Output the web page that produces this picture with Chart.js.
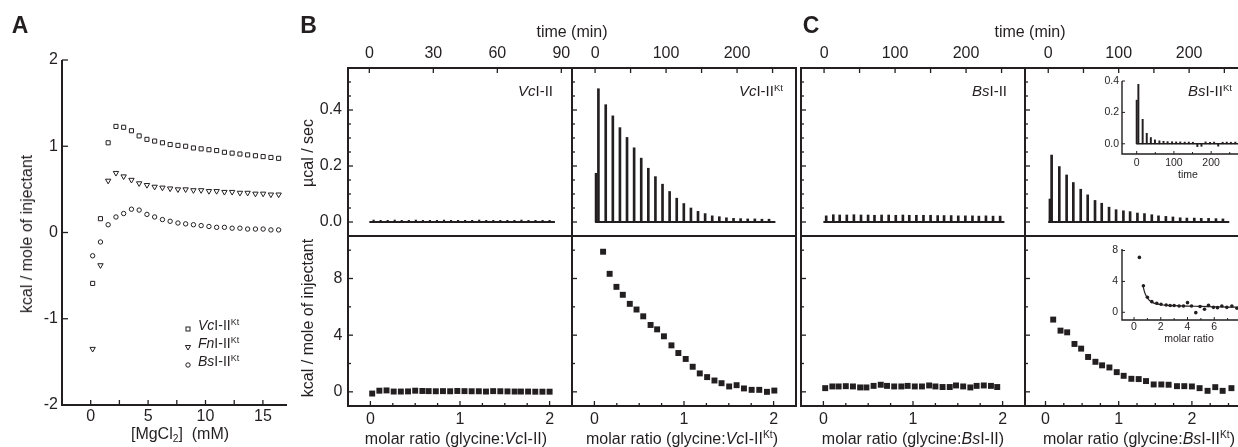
<!DOCTYPE html>
<html>
<head>
<meta charset="utf-8">
<script src="https://cdn.jsdelivr.net/npm/chart.js@4.4.1/dist/chart.umd.min.js"></script>
<style>
  html, body { margin: 0; padding: 0; background: #fff; }
  #fig { position: relative; width: 1238px; height: 447px; overflow: hidden;
         font-family: "Liberation Sans", Arial, Helvetica, sans-serif; color: #231f20; }
  #fig canvas { position: absolute; left: 0; top: 0; }
  .t { position: absolute; white-space: nowrap; line-height: 1; z-index: 5; }
  .t sup { font-size: 0.64em; vertical-align: 0; position: relative; top: -0.55em; }
  .t sub { font-size: 0.64em; vertical-align: 0; position: relative; top: 0.3em; }
  .sym { position: absolute; z-index: 5; }
</style>
</head>
<body>
<div id="fig"></div>
<script>
const INK = '#231f20';
const FONT = '"Liberation Sans", Arial, Helvetica, sans-serif';

// ---- Panel A: heat of MgCl2 injection ----
const mgConc = [0.17, 0.85, 1.52, 2.20, 2.87, 3.55, 4.22, 4.90, 5.57, 6.25, 6.92, 7.60, 8.27, 8.95, 9.62, 10.30, 10.97, 11.65, 12.32, 13.00, 13.67, 14.35, 15.02, 15.70, 16.37];
const vcKtMg = [-0.59, 0.16, 1.04, 1.23, 1.22, 1.18, 1.12, 1.08, 1.06, 1.04, 1.02, 1.01, 1.00, 0.98, 0.97, 0.96, 0.95, 0.93, 0.92, 0.91, 0.90, 0.89, 0.88, 0.87, 0.86];
const fnKtMg = [-1.35, -0.38, 0.60, 0.69, 0.65, 0.61, 0.57, 0.55, 0.53, 0.52, 0.51, 0.50, 0.50, 0.49, 0.49, 0.48, 0.48, 0.47, 0.47, 0.46, 0.46, 0.45, 0.45, 0.44, 0.44];
const bsKtMg = [-0.27, -0.11, 0.09, 0.18, 0.22, 0.27, 0.26, 0.21, 0.18, 0.15, 0.13, 0.11, 0.10, 0.09, 0.08, 0.07, 0.06, 0.06, 0.05, 0.05, 0.04, 0.04, 0.04, 0.03, 0.03];

// ---- VcI-II (glycine titration) ----
const vcTime = [2.0, 5.3, 8.6, 11.9, 15.2, 18.5, 21.8, 25.1, 28.4, 31.7, 35.0, 38.3, 41.6, 44.9, 48.2, 51.5, 54.8, 58.1, 61.4, 64.7, 68.0, 71.3, 74.6, 77.9, 81.2, 84.5];
const vcPeak = [0.007, 0.006, 0.006, 0.007, 0.006, 0.006, 0.007, 0.006, 0.006, 0.006, 0.007, 0.006, 0.006, 0.006, 0.006, 0.007, 0.006, 0.006, 0.006, 0.006, 0.006, 0.007, 0.006, 0.006, 0.006, 0.006];
const vcRun = [0, 87];
const vcRatio = [0.02, 0.10, 0.18, 0.26, 0.34, 0.42, 0.50, 0.58, 0.65, 0.73, 0.81, 0.89, 0.97, 1.05, 1.13, 1.21, 1.29, 1.37, 1.45, 1.53, 1.61, 1.68, 1.76, 1.84, 1.92, 2.00];
const vcHeat = [-0.12, 0.08, 0.10, 0.02, 0.02, 0.03, 0.08, 0.06, 0.05, 0.04, 0.05, 0.04, 0.06, 0.05, 0.04, 0.04, 0.02, 0.05, 0.04, 0.03, 0.02, 0.02, 0.02, 0.01, 0.01, 0.01];

// ---- VcI-II Kt ----
const vcKtTime = [1.4, 4.7, 15, 25, 35, 45, 55, 65, 75, 85, 95, 105, 115, 125, 135, 145, 155, 165, 175, 185, 195, 205, 215, 225, 235, 245];
const vcKtPeak = [0.174, 0.476, 0.419, 0.379, 0.337, 0.302, 0.265, 0.228, 0.192, 0.162, 0.135, 0.109, 0.085, 0.066, 0.050, 0.038, 0.030, 0.022, 0.019, 0.015, 0.013, 0.012, 0.011, 0.011, 0.010, 0.010];
const vcKtRun = [0, 254];
const vcKtRatio = [0.097, 0.17, 0.246, 0.317, 0.395, 0.47, 0.545, 0.627, 0.70, 0.776, 0.86, 0.937, 1.019, 1.097, 1.176, 1.258, 1.34, 1.419, 1.504, 1.587, 1.669, 1.755, 1.84, 1.926, 2.008];
const vcKtHeat = [9.89, 8.33, 7.41, 6.85, 6.21, 5.81, 5.33, 4.72, 4.41, 3.92, 3.28, 2.74, 2.32, 1.77, 1.30, 1.04, 0.80, 0.61, 0.38, 0.47, 0.24, 0.14, 0.14, 0.00, 0.09];

// ---- BsI-II ----
const bsTime = [3, 13, 22, 32, 42, 52, 62, 71, 81, 91, 101, 111, 120, 130, 140, 150, 160, 169, 179, 189, 199, 209, 218, 228, 238, 248];
const bsPeak = [0.022, 0.026, 0.025, 0.025, 0.026, 0.025, 0.025, 0.024, 0.025, 0.025, 0.024, 0.025, 0.024, 0.024, 0.024, 0.024, 0.023, 0.023, 0.023, 0.022, 0.022, 0.022, 0.021, 0.022, 0.021, 0.021];
const bsRun = [-1, 254];
const bsRatio = [0.02, 0.10, 0.17, 0.25, 0.33, 0.41, 0.48, 0.56, 0.64, 0.71, 0.79, 0.87, 0.94, 1.02, 1.10, 1.18, 1.25, 1.33, 1.41, 1.48, 1.56, 1.64, 1.71, 1.79, 1.87, 1.94];
const bsHeat = [0.26, 0.38, 0.38, 0.40, 0.38, 0.31, 0.31, 0.42, 0.50, 0.42, 0.38, 0.38, 0.42, 0.38, 0.38, 0.45, 0.38, 0.34, 0.34, 0.45, 0.38, 0.31, 0.42, 0.45, 0.42, 0.34];

// ---- BsI-II Kt ----
const bsKtTime = [2.4, 4.8, 15.7, 26.1, 35.6, 46.1, 56, 66.4, 75.9, 86.3, 96.3, 106.7, 116.2, 126.6, 136.6, 147, 156.5, 167, 177, 187.3, 196.8, 207.3, 217.2, 227.6, 238.1, 248];
const bsKtPeak = [0.082, 0.239, 0.198, 0.168, 0.141, 0.117, 0.097, 0.077, 0.067, 0.053, 0.044, 0.040, 0.037, 0.032, 0.030, 0.026, 0.022, 0.020, 0.018, 0.015, 0.014, 0.014, 0.013, 0.013, 0.012, 0.011];
const bsKtRun = [0, 257];
const bsKtRatio = [0.105, 0.205, 0.296, 0.396, 0.487, 0.582, 0.682, 0.773, 0.873, 0.973, 1.068, 1.173, 1.273, 1.373, 1.478, 1.582, 1.682, 1.796, 1.896, 2.0, 2.105, 2.214, 2.319, 2.42, 2.54];
const bsKtHeat = [5.10, 4.32, 4.20, 3.38, 3.05, 2.46, 2.12, 1.87, 1.72, 1.39, 1.13, 0.92, 0.90, 0.76, 0.52, 0.52, 0.50, 0.40, 0.40, 0.38, 0.26, 0.07, 0.33, 0.07, 0.26];

// ---- BsI-II Kt insets (second run) ----
const insetTime = [0, 4.5, 16, 27, 38, 49, 61, 72, 83, 95, 106, 117, 129, 140, 151, 163, 174, 185, 197, 208, 219, 231, 242, 253, 265];
const insetPeak = [0.278, 0.379, 0.156, 0.067, 0.040, 0.025, 0.019, 0.016, 0.014, 0.013, 0.012, 0.012, 0.011, 0.011, 0.010, -0.018, -0.016, 0.012, 0.010, 0.011, -0.015, 0.010, 0.011, 0.010, 0.011];
const insetRun = [-1, 275];
const insetRatio = [0.4, 0.7, 1.0, 1.33, 1.7, 2.02, 2.4, 2.7, 3.0, 3.37, 3.7, 4.0, 4.3, 4.62, 4.94, 5.27, 5.57, 5.94, 6.24, 6.57, 6.94, 7.32, 7.7];
const insetHeat = [7.11, 3.43, 1.95, 1.38, 1.17, 1.04, 0.95, 0.87, 0.87, 0.82, 0.82, 1.25, 0.82, -0.05, 0.74, 0.39, 0.90, 0.64, 0.60, 0.82, 0.64, 0.82, 0.52];
const insetFitRatio = [0.68, 0.8, 0.95, 1.1, 1.3, 1.6, 2.0, 2.5, 3.0, 4.0, 5.0, 6.0, 7.0, 8.3];
const insetFitHeat = [3.35, 2.55, 2.0, 1.65, 1.35, 1.12, 0.98, 0.90, 0.85, 0.80, 0.76, 0.72, 0.68, 0.65];

// ---- tick labels ----
const aXLabels = [0, 5, 10, 15];
const aXMinor = [2.5, 7.5, 12.5];
const aYLabels = [-2, -1, 0, 1, 2];
const powerLabels = [0, 0.2, 0.4];
const powerMinor = [0.05, 0.1, 0.15, 0.25, 0.3, 0.35, 0.45, 0.5];
const heatLabels = [0, 4, 8];
const heatMinor = [2, 6, 10];
const ratioLabels = [0, 1, 2];
const ratioMinor = [0.25, 0.5, 0.75, 1.25, 1.5, 1.75];
const ratioMinorWide = [0.25, 0.5, 0.75, 1.25, 1.5, 1.75, 2.25, 2.5, 2.75];
const shortTimeLabels = [0, 30, 60, 90];
const longTimeLabels = [0, 100, 200];
const longTimeMinor = [50, 150, 250];
const insetPowerLabels = [0, 0.2, 0.4];
const insetTimeLabels = [0, 100, 200];
const insetTimeMinor = [50, 150, 250];
const insetHeatLabels = [0, 4, 8];
const insetRatioLabels = [0, 2, 4, 6, 8];
const insetRatioMinor = [1, 3, 5, 7];

const CW = 1300, CH = 447;
const fig = document.getElementById('fig');
const pts = (xs, ys) => xs.map((x, i) => ({ x: x, y: ys[i] }));
const fix1 = v => v.toFixed(1);

// draws inward tick marks and the frame (box or L-shaped axes)
const frameTicks = {
  id: 'frameTicks',
  afterDatasetsDraw(chart, args, o) {
    const { ctx, chartArea: a, scales } = chart;
    ctx.save();
    ctx.strokeStyle = INK;
    ctx.lineWidth = o.tickWidth || 1.3;
    (o.marks || []).forEach(m => {
      const sc = scales[m.axis];
      const seg = (v, len) => {
        const p = sc.getPixelForValue(v);
        ctx.beginPath();
        if (m.side === 'left') { ctx.moveTo(a.left, p); ctx.lineTo(a.left + len, p); }
        else if (m.side === 'top') { ctx.moveTo(p, a.top); ctx.lineTo(p, a.top + len); }
        else { ctx.moveTo(p, a.bottom); ctx.lineTo(p, a.bottom - len); }
        ctx.stroke();
      };
      m.major.forEach(v => seg(v, m.len || 5));
      (m.minor || []).forEach(v => seg(v, m.minorLen || 3));
    });
    ctx.lineWidth = o.lw || 2;
    ctx.beginPath();
    if (o.box) {
      ctx.rect(a.left, a.top, a.right - a.left, a.bottom - a.top);
    } else {
      ctx.moveTo(a.left, a.top);
      ctx.lineTo(a.left, a.bottom);
      ctx.lineTo(a.right, a.bottom);
    }
    ctx.stroke();
    ctx.restore();
  }
};

function scaleOpts(s, axis) {
  return {
    type: 'linear', position: s.pos, min: s.min, max: s.max,
    offset: false, bounds: 'data',
    display: !!s.labels,
    grid: { display: false, drawTicks: false },
    border: { display: false },
    ticks: {
      autoSkip: false, maxRotation: 0, minRotation: 0,
      padding: s.pad || 5,
      font: { family: FONT, size: s.size || 16 },
      color: INK,
      callback: s.fmt || (v => String(v))
    },
    afterBuildTicks: sc => { if (s.labels) sc.ticks = s.labels.map(v => ({ value: v })); },
    afterFit: sc => {
      if (!s.labels) return;
      if (axis === 'x') sc.height = s.h || 28; else sc.width = s.w || 44;
    }
  };
}

function addChart(type, area, xs, ys, datasets, frame) {
  const cv = document.createElement('canvas');
  cv.width = CW; cv.height = CH;
  fig.appendChild(cv);
  const xh = xs.labels ? (xs.h || 28) : 0;
  const yw = ys.labels ? (ys.w || 44) : 0;
  const padding = {
    left: area.l - yw,
    right: CW - area.r,
    top: area.t - (xs.pos === 'top' ? xh : 0),
    bottom: CH - area.b - (xs.pos === 'bottom' ? xh : 0)
  };
  return new Chart(cv, {
    type: type,
    data: { datasets: datasets },
    options: {
      responsive: false, animation: false, devicePixelRatio: 1, events: [],
      layout: { padding: padding },
      plugins: { legend: { display: false }, tooltip: { enabled: false }, frameTicks: frame },
      scales: { x: scaleOpts(xs, 'x'), y: scaleOpts(ys, 'y') }
    },
    plugins: [frameTicks]
  });
}

function thermo(times, peaks, run, thick, lw) {
  return [
    { type: 'bar', data: pts(times, peaks), backgroundColor: INK, borderWidth: 0, barThickness: thick || 2, grouped: false },
    { type: 'line', data: run.map(t => ({ x: t, y: 0 })), borderColor: INK, borderWidth: lw || 2, pointRadius: 0 }
  ];
}
function squares(ratio, heat) {
  return [{ type: 'scatter', data: pts(ratio, heat), pointStyle: 'rect', pointRadius: 4.2,
            pointBackgroundColor: INK, pointBorderWidth: 0 }];
}

// ---------- Panel A ----------
addChart('scatter', { l: 62, t: 60, r: 287, b: 405 },
  { pos: 'bottom', min: -2.5, max: 17.1, labels: aXLabels, pad: 2.4 },
  { pos: 'left', min: -2, max: 2, labels: aYLabels, pad: 4 },
  [
    { data: pts(mgConc, vcKtMg), pointStyle: 'rect', pointRadius: 2.9, pointBorderColor: INK, pointBorderWidth: 1, pointBackgroundColor: 'rgba(0,0,0,0)' },
    { data: pts(mgConc, fnKtMg), pointStyle: 'triangle', pointRotation: 180, pointRadius: 3.1, pointBorderColor: INK, pointBorderWidth: 1, pointBackgroundColor: 'rgba(0,0,0,0)' },
    { data: pts(mgConc, bsKtMg), pointStyle: 'circle', pointRadius: 2.2, pointBorderColor: INK, pointBorderWidth: 1, pointBackgroundColor: 'rgba(0,0,0,0)' }
  ],
  { box: false, lw: 2, marks: [
    { axis: 'y', side: 'left', major: aYLabels, len: 6 },
    { axis: 'x', side: 'bottom', major: aXLabels, minor: aXMinor, len: 5, minorLen: 5 }
  ] });

// ---------- Panel B ----------
addChart('bar', { l: 348, t: 68, r: 572, b: 236 },
  { pos: 'top', min: -10, max: 95, labels: shortTimeLabels, pad: 4.4 },
  { pos: 'left', min: -0.05, max: 0.55, labels: powerLabels, pad: 6, fmt: fix1 },
  thermo(vcTime, vcPeak, vcRun, 1.5),
  { box: true, marks: [
    { axis: 'x', side: 'top', major: shortTimeLabels },
    { axis: 'y', side: 'left', major: powerLabels, minor: powerMinor }
  ] });

addChart('scatter', { l: 348, t: 236, r: 572, b: 406 },
  { pos: 'bottom', min: -0.25, max: 2.25, labels: ratioLabels, pad: 4.4 },
  { pos: 'left', min: -1, max: 11, labels: heatLabels, pad: 5.5 },
  squares(vcRatio, vcHeat),
  { box: true, marks: [
    { axis: 'x', side: 'bottom', major: ratioLabels, minor: ratioMinor },
    { axis: 'y', side: 'left', major: heatLabels, minor: heatMinor }
  ] });

addChart('bar', { l: 572, t: 68, r: 796, b: 236 },
  { pos: 'top', min: -32.5, max: 283, labels: longTimeLabels, pad: 4.4 },
  { pos: 'left', min: -0.05, max: 0.55 },
  thermo(vcKtTime, vcKtPeak, vcKtRun, 2),
  { box: true, marks: [
    { axis: 'x', side: 'top', major: longTimeLabels, minor: longTimeMinor, minorLen: 5 },
    { axis: 'y', side: 'left', major: powerLabels, minor: powerMinor }
  ] });

addChart('scatter', { l: 572, t: 236, r: 796, b: 406 },
  { pos: 'bottom', min: -0.25, max: 2.25, labels: ratioLabels, pad: 4.4 },
  { pos: 'left', min: -1, max: 11 },
  squares(vcKtRatio, vcKtHeat),
  { box: true, marks: [
    { axis: 'x', side: 'bottom', major: ratioLabels, minor: ratioMinor },
    { axis: 'y', side: 'left', major: heatLabels, minor: heatMinor }
  ] });

// ---------- Panel C ----------
addChart('bar', { l: 801, t: 68, r: 1025, b: 236 },
  { pos: 'top', min: -32.5, max: 283, labels: longTimeLabels, pad: 4.4 },
  { pos: 'left', min: -0.05, max: 0.55 },
  thermo(bsTime, bsPeak, bsRun, 2),
  { box: true, marks: [
    { axis: 'x', side: 'top', major: longTimeLabels, minor: longTimeMinor, minorLen: 5 },
    { axis: 'y', side: 'left', major: powerLabels, minor: powerMinor }
  ] });

addChart('scatter', { l: 801, t: 236, r: 1025, b: 406 },
  { pos: 'bottom', min: -0.25, max: 2.25, labels: ratioLabels, pad: 4.4 },
  { pos: 'left', min: -1, max: 11 },
  squares(bsRatio, bsHeat),
  { box: true, marks: [
    { axis: 'x', side: 'bottom', major: ratioLabels, minor: ratioMinor },
    { axis: 'y', side: 'left', major: heatLabels, minor: heatMinor }
  ] });

addChart('bar', { l: 1025, t: 68, r: 1249, b: 236 },
  { pos: 'top', min: -33, max: 285, labels: longTimeLabels, pad: 4.4 },
  { pos: 'left', min: -0.05, max: 0.55 },
  thermo(bsKtTime, bsKtPeak, bsKtRun, 2),
  { box: true, marks: [
    { axis: 'x', side: 'top', major: longTimeLabels, minor: longTimeMinor, minorLen: 5 },
    { axis: 'y', side: 'left', major: powerLabels, minor: powerMinor }
  ] });

addChart('scatter', { l: 1025, t: 236, r: 1249, b: 406 },
  { pos: 'bottom', min: -0.28, max: 2.78, labels: ratioLabels, pad: 4.4 },
  { pos: 'left', min: -1, max: 11 },
  squares(bsKtRatio, bsKtHeat),
  { box: true, marks: [
    { axis: 'x', side: 'bottom', major: ratioLabels, minor: ratioMinorWide },
    { axis: 'y', side: 'left', major: heatLabels, minor: heatMinor }
  ] });

// ---------- insets ----------
addChart('bar', { l: 1122, t: 81, r: 1245, b: 154 },
  { pos: 'bottom', min: -39.5, max: 291, labels: insetTimeLabels, pad: 2.7, size: 10.5, h: 18 },
  { pos: 'left', min: -0.065, max: 0.4, labels: insetPowerLabels, pad: 3, size: 10.5, w: 30, fmt: fix1 },
  thermo(insetTime, insetPeak, insetRun, 1.3, 1.5),
  { box: false, lw: 1.4, tickWidth: 1, marks: [
    { axis: 'x', side: 'bottom', major: insetTimeLabels, minor: insetTimeMinor, len: 3, minorLen: 2 },
    { axis: 'y', side: 'left', major: insetPowerLabels, len: 3 }
  ] });

addChart('scatter', { l: 1122, t: 249, r: 1245, b: 320 },
  { pos: 'bottom', min: -0.9, max: 8.3, labels: insetRatioLabels, pad: 1, size: 10.5, h: 18 },
  { pos: 'left', min: -1, max: 8.2, labels: insetHeatLabels, pad: 4, size: 10.5, w: 30 },
  [
    { type: 'scatter', data: pts(insetRatio, insetHeat), pointStyle: 'circle', pointRadius: 1.8, pointBackgroundColor: INK, pointBorderWidth: 0 },
    { type: 'line', data: pts(insetFitRatio, insetFitHeat), borderColor: INK, borderWidth: 1.2, pointRadius: 0, tension: 0.3 }
  ],
  { box: false, lw: 1.4, tickWidth: 1, marks: [
    { axis: 'x', side: 'bottom', major: insetRatioLabels, minor: insetRatioMinor, len: 3, minorLen: 2 },
    { axis: 'y', side: 'left', major: insetHeatLabels, len: 3 }
  ] });

// ---------- text ----------
function text(html, x, y, size, o) {
  o = o || {};
  const d = document.createElement('div');
  d.className = 't';
  d.innerHTML = html;
  d.style.left = x + 'px';
  d.style.top = y + 'px';
  d.style.fontSize = size + 'px';
  if (o.bold) d.style.fontWeight = 'bold';
  let tr = o.align === 'right' ? 'translate(-100%,-50%)' : o.align === 'left' ? 'translate(0,-50%)' : 'translate(-50%,-50%)';
  if (o.rot) tr += ' rotate(-90deg)';
  d.style.transform = tr;
  fig.appendChild(d);
}

text('A', 20, 25, 23, { bold: true });
text('B', 308.5, 25, 23, { bold: true });
text('C', 811, 25, 23, { bold: true });

text('kcal / mole of injectant', 27, 234, 16, { rot: true });
text('[MgCl<sub>2</sub>]&nbsp;&nbsp;(mM)', 180, 434, 16);

text('time (min)', 572, 32, 16);
text('time (min)', 1030, 32, 16);
text('µcal / sec', 308, 153, 16, { rot: true });
text('kcal / mole of injectant', 308, 318, 16, { rot: true });

text('molar ratio (glycine:<i>Vc</i>I-II)', 456, 439, 16);
text('molar ratio (glycine:<i>Vc</i>I-II<sup>Kt</sup>)', 682, 439, 16);
text('molar ratio (glycine:<i>Bs</i>I-II)', 913, 439, 16);
text('molar ratio (glycine:<i>Bs</i>I-II<sup>Kt</sup>)', 1139, 439, 16);

text('<i>Vc</i>I-II', 553, 90, 15, { align: 'right' });
text('<i>Vc</i>I-II<sup>Kt</sup>', 783, 90, 15, { align: 'right' });
text('<i>Bs</i>I-II', 1007, 90, 15, { align: 'right' });
text('<i>Bs</i>I-II<sup>Kt</sup>', 1232, 90, 15, { align: 'right' });

text('time', 1188, 174, 10.5);
text('molar ratio', 1189, 338, 10.5);

// legend of panel A
const legendRows = [
  { y: 325, label: '<i>Vc</i>I-II<sup>Kt</sup>', svg: '<rect x="-2" y="-2" width="4" height="4"/>' },
  { y: 343, label: '<i>Fn</i>I-II<sup>Kt</sup>', svg: '<polygon points="-2.6,-1.5 2.6,-1.5 0,3"/>' },
  { y: 361, label: '<i>Bs</i>I-II<sup>Kt</sup>', svg: '<circle cx="0" cy="0" r="2.2"/>' }
];
legendRows.forEach(r => {
  const s = document.createElement('div');
  s.className = 'sym';
  s.style.left = '183px';
  s.style.top = (r.y - 5) + 'px';
  s.innerHTML = '<svg width="10" height="10" viewBox="-5 -5 10 10"><g fill="none" stroke="' + INK + '" stroke-width="1">' + r.svg + '</g></svg>';
  fig.appendChild(s);
  text(r.label, 198, r.y, 14, { align: 'left' });
});
</script>
</body>
</html>
